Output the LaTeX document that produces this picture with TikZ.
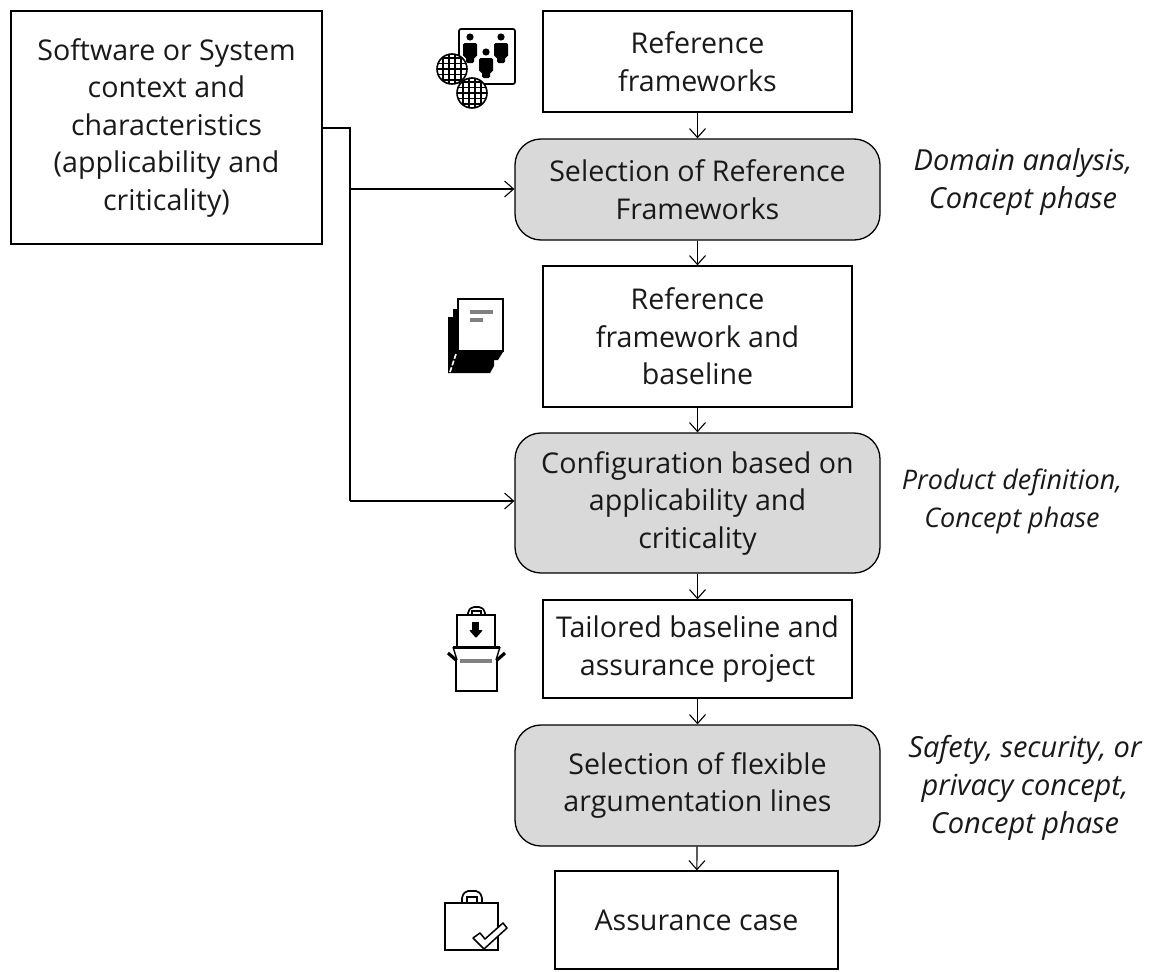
\documentclass[tikz,border=0pt]{standalone}
\usepackage{fontspec}
\setmainfont{Open Sans}
\usetikzlibrary{arrows.meta,calc}
\tikzset{
 x=1pt,y=-1pt,
 boxn/.style={draw=black,line width=1.3pt,fill=white,align=center,inner sep=0pt,font=\fontsize{28.6}{37.5}\selectfont,text=black!90},
 proc/.style={boxn,fill=black!15,rounded corners=26pt},
 note/.style={align=center,inner sep=0pt,font=\fontsize{29}{38}\selectfont\itshape,text=black!90},
 arr/.style={line width=1.1pt,-{Straight Barb[length=9pt,width=16pt,line width=1.1pt]}},
 ln/.style={line width=1.1pt},
 ico/.style={line width=1.7pt,draw=black,fill=white},
}
\newcommand{\mknode}[7][boxn]{\node[#1,minimum width=#4pt-#3pt,minimum height=#6pt-#5pt] (#2) at ({(#3+#4)/2},{(#5+#6)/2}) {#7};}
\newcommand{\globe}[3]{%
 \begin{scope}
 \fill[white] (#1,#2) circle (#3);
 \clip (#1,#2) circle (#3);
 \foreach \d in {-0.72,-0.36,0,0.36,0.72}{\draw[line width=1.5pt] (#1-#3,#2+\d*#3) -- (#1+#3,#2+\d*#3);}
 \foreach \d in {-0.6,-0.2,0.2,0.6}{\draw[line width=1.5pt] (#1+\d*#3,#2-#3) -- (#1+\d*#3,#2+#3);}
 \end{scope}
 \draw[line width=1.6pt] (#1,#2) circle (#3);}
\newcommand{\person}[2]{%
 \fill (#1,#2) circle (3.6);
 \fill[rounded corners=1.5pt] (#1-7,#2+6) -- (#1+7,#2+6) -- (#1+7,#2+20) -- (#1+4,#2+20) -- (#1+4,#2+26) -- (#1-4,#2+26) -- (#1-4,#2+20) -- (#1-7,#2+20) -- cycle;}
\begin{document}
\begin{tikzpicture}
\useasboundingbox (0,0) rectangle (1152,972);
\fill[white] (0,0) rectangle (1152,972);
\mknode{ctx}{11}{322}{11}{244}{Software or System\\context and\\characteristics\\(applicability and\\criticality)}
\mknode{rf}{543}{852}{11}{112}{Reference\\frameworks}
\mknode[proc]{srf}{515}{880}{139}{240}{Selection of Reference\\Frameworks}
\mknode{rfb}{543}{852}{266}{407}{Reference\\framework and\\baseline}
\mknode[proc]{cfg}{515}{880}{433}{573}{Configuration based on\\applicability and\\criticality}
\mknode{tb}{543}{852}{600}{698}{Tailored baseline and\\assurance project}
\mknode[proc]{sfl}{515}{880}{725}{846}{Selection of flexible\\argumentation lines}
\mknode{ac}{555}{838}{871}{969}{Assurance case}
\node[note] (n1) at (1023,182) {Domain analysis,\\Concept phase};
\node[note,font=\fontsize{27}{38}\selectfont\itshape] (n2) at (1012,501) {Product definition,\\Concept phase};
\node[note] (n3) at (1025,788) {Safety, security, or\\privacy concept,\\Concept phase};
\draw[arr] (rf) -- (srf);
\draw[arr] (srf) -- (rfb);
\draw[arr] (rfb) -- (cfg);
\draw[arr] (cfg) -- (tb);
\draw[arr] (tb) -- (sfl);
\draw[arr] (sfl) -- (ac);
\coordinate (s1) at (322,128);
\coordinate (s2) at (350,128);
\coordinate (s3) at (350,189);
\coordinate (s4) at (350,501);
\draw[ln] (s1) -- (s2) -- (s4);
\draw[arr] (s3) -- (s3 -| srf.west);
\draw[arr] (s4) -- (s4 -| cfg.west);
% people + globes icon
\draw[ico,rounded corners=2pt] (459,29) rectangle (515,84);
\person{470}{37}\person{486}{52}\person{501}{37}
\globe{452}{69}{15}\globe{472}{93}{15}
% documents icon
\fill[black] (448,317) -- (453,317) -- (453,309) -- (458,309) -- (458,352) -- (503,352) -- (498,360) -- (494,360) -- (494,366) -- (490,373) -- (448,373) -- cycle;
\draw[ico] (458,299) rectangle (503,351);
\draw[white,line width=1.6pt,dash pattern=on 5pt off 2pt] (456,354) -- (450,372);
\draw[black!50,line width=3.2pt] (470,312) -- (493,312);
\draw[black!50,line width=3.2pt] (470,320) -- (483,320);
% bag into box icon
\draw[ico,rounded corners=2pt] (468,616) -- (468,611) -- (472,607) -- (481,607) -- (485,611) -- (485,616);
\draw[line width=1.2pt] (472,615) -- (472,611) -- (481,611) -- (481,615);
\draw[ico] (457,615) rectangle (495,647);
\fill (472,622) rectangle (479,631);
\fill[rounded corners=1pt] (469,630) -- (483,630) -- (476,638) -- cycle;
\draw[line width=1.7pt] (456,660) -- (456,691) -- (497,691) -- (497,660);
\draw[line width=3pt] (453,647) -- (500,647);
\draw[line width=1.4pt] (453,647) -- (457,660) (500,647) -- (496,660);
\draw[line width=3.2pt] (448,653) -- (456,660);
\draw[line width=3.2pt] (505,653) -- (497,660);
\draw[black!50,line width=3.2pt] (460,661) -- (492,661);
% assurance bag + check
\draw[ico,rounded corners=2pt] (462,904) -- (462,896) -- (466,891) -- (478,891) -- (482,896) -- (482,904);
\draw[line width=1.4pt] (467,903) -- (467,897) -- (477,897) -- (477,903);
\draw[ico] (445,903) rectangle (498,950);
\draw[ico,line join=round,line width=1.5pt] (473,938) -- (480,933) -- (485,939) -- (503,923) -- (507,928) -- (484,949) -- cycle;
\end{tikzpicture}
\end{document}
